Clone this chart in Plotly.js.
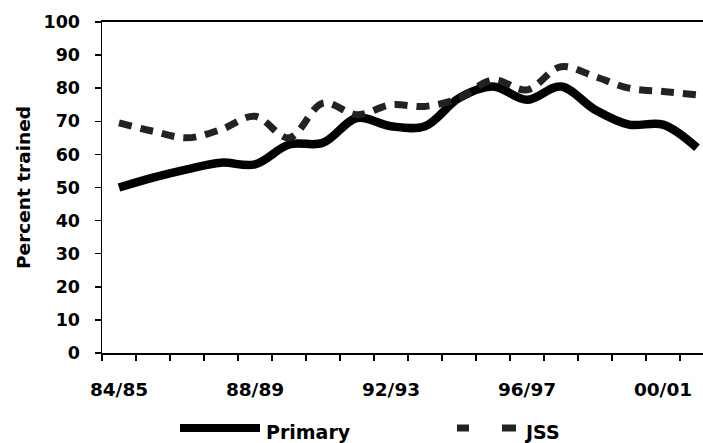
<!DOCTYPE html>
<html>
<head>
<meta charset="utf-8">
<script src="https://cdn.plot.ly/plotly-3.0.1.min.js"></script>
<style>
  html, body { margin: 0; padding: 0; background: #fff; }
  #chart { width: 703px; height: 443px; }
</style>
</head>
<body>
<div id="chart"></div>
<script>
// School years, one category per year
const years = ['84/85', '85/86', '86/87', '87/88', '88/89', '89/90', '90/91', '91/92', '92/93',
               '93/94', '94/95', '95/96', '96/97', '97/98', '98/99', '99/00', '00/01', '01/02'];

// Percentage of trained teachers
const primary = [50, 53, 55.5, 57.5, 57, 63, 63.5, 71, 68.5, 68.5, 77, 80.5, 76.5, 80.5, 73.5, 69, 69, 62];
const jss     = [69.5, 67, 65, 67.5, 71.5, 65, 75.5, 72, 75, 74.5, 77, 82.5, 79.5, 86.5, 83.5, 80, 79, 78];

// Labelled years on the category axis
const labelledYears = ['84/85', '88/89', '92/93', '96/97', '00/01'];

const yTicks = [0, 10, 20, 30, 40, 50, 60, 70, 80, 90, 100];

const seriesNames = ['Primary', 'JSS'];

const idx = years.map((_, i) => i);
const labelPos = labelledYears.map(y => years.indexOf(y));

const W = 703, H = 443, M = { l: 102, r: 0, t: 22, b: 90 };
const px2x = x => (x - M.l) / (W - M.l - M.r);
const px2y = y => (H - M.b - y) / (H - M.t - M.b);

const FONT = 'DejaVu Sans, Liberation Sans, Arial, sans-serif';

const traces = [
  {
    x: idx, y: primary, name: seriesNames[0], type: 'scatter', mode: 'lines',
    line: { color: '#000000', width: 8.5, shape: 'spline', smoothing: 1 },
    hoverinfo: 'skip'
  },
  {
    x: idx, y: jss, name: seriesNames[1], type: 'scatter', mode: 'lines',
    line: { color: '#222222', width: 7, shape: 'spline', smoothing: 1, dash: '13px,9px' },
    hoverinfo: 'skip'
  }
];

const legendY = 428;
const layout = {
  width: W, height: H,
  margin: M,
  paper_bgcolor: '#ffffff', plot_bgcolor: '#ffffff',
  showlegend: false,
  font: { family: FONT, color: '#000', weight: 'bold' },
  xaxis: {
    range: [-0.5, -0.5 + (W - M.l - M.r) / 34],
    tickmode: 'array', tickvals: labelPos, ticktext: labelledYears,
    ticks: '', showgrid: false, zeroline: false,
    showline: true, linecolor: '#000', linewidth: 2, mirror: true,
    tickfont: { family: FONT, size: 18.5, color: '#000', weight: 'bold' },
    ticklabelstandoff: 19,
    minor: { tickmode: 'linear', tick0: -0.5, dtick: 1, ticks: 'outside', ticklen: 6,
             tickwidth: 1.5, tickcolor: '#000', showgrid: false },
    fixedrange: true
  },
  yaxis: {
    range: [0, 100], tickmode: 'array', tickvals: yTicks,
    ticks: 'outside', ticklen: 6, tickwidth: 1.5, tickcolor: '#000',
    showgrid: false, zeroline: false,
    showline: true, linecolor: '#000', linewidth: 1.5,
    tickfont: { family: FONT, size: 17.5, color: '#000', weight: 'bold' },
    ticklabelstandoff: 11,
    title: { text: 'Percent trained', standoff: 8,
             font: { family: FONT, size: 18.5, color: '#000', weight: 'bold' } },
    fixedrange: true
  },
  shapes: [
    { type: 'line', xref: 'paper', yref: 'paper',
      x0: px2x(180), x1: px2x(260), y0: px2y(legendY), y1: px2y(legendY),
      line: { color: '#000', width: 8 } },
    { type: 'line', xref: 'paper', yref: 'paper',
      x0: px2x(457), x1: px2x(469), y0: px2y(legendY), y1: px2y(legendY),
      line: { color: '#222222', width: 7 } },
    { type: 'line', xref: 'paper', yref: 'paper',
      x0: px2x(502), x1: px2x(516), y0: px2y(legendY), y1: px2y(legendY),
      line: { color: '#222222', width: 7 } }
  ],
  annotations: [
    { text: seriesNames[0], xref: 'paper', yref: 'paper', x: px2x(264), y: px2y(432),
      xanchor: 'left', yanchor: 'middle', showarrow: false,
      font: { family: FONT, size: 19, color: '#000', weight: 'bold' } },
    { text: seriesNames[1], xref: 'paper', yref: 'paper', x: px2x(522), y: px2y(432),
      xanchor: 'left', yanchor: 'middle', showarrow: false,
      font: { family: FONT, size: 19, color: '#000', weight: 'bold' } }
  ]
};

Plotly.newPlot('chart', traces, layout, { displayModeBar: false, staticPlot: true });
</script>
</body>
</html>
